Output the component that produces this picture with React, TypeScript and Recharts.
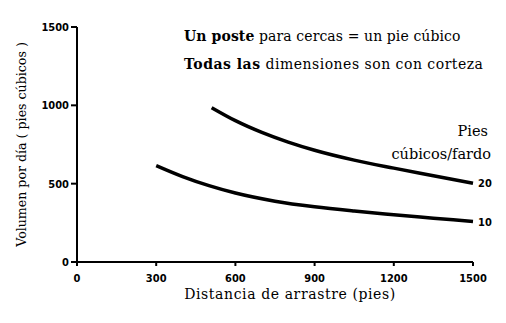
import { LineChart, Line, XAxis, YAxis } from "recharts";

// distancia de arrastre (pies) y volumen por día (pies cúbicos)
const dist10 = [300, 400, 500, 600, 750, 900, 1050, 1200, 1350, 1500];
const vol10 = [615, 545, 487, 440, 388, 352, 325, 302, 280, 258];

const dist20 = [510, 600, 700, 800, 900, 1050, 1200, 1350, 1500];
const vol20 = [985, 902, 827, 765, 713, 650, 599, 551, 503];

const xTicks = [0, 300, 600, 900, 1200, 1500];
const yTicks = [0, 500, 1000, 1500];

const notes = [
  ["Un poste", " para cercas =  un pie cúbico"],
  ["Todas las", " dimensiones son con corteza"],
];
const seriesTitle = ["Pies", "cúbicos/fardo"];
const xTitle = "Distancia de arrastre (pies)";
const yTitle = "Volumen por día ( pies cúbicos )";

const serie10 = dist10.map((d, i) => ({ d, v: vol10[i] }));
const serie20 = dist20.map((d, i) => ({ d, v: vol20[i] }));

const serif = "DejaVu Serif, serif";
const tickFont = "DejaVu Sans Condensed, DejaVu Sans, sans-serif";

const endLabel = (text: string, count: number) => (props: any) => {
  if (props.index !== count - 1) return null;
  return (
    <text
      x={props.x + 5}
      y={props.y + 4}
      style={{ fontFamily: tickFont, fontWeight: "bold", fontSize: 11 }}
      fill="#000"
    >
      {text}
    </text>
  );
};

export default function App() {
  return (
    <div style={{ position: "absolute", left: 0, top: 0, background: "#fff" }}>
      <LineChart
        width={506}
        height={323}
        margin={{ top: 27, right: 33, left: 27, bottom: 31 }}
      >
        <XAxis
          dataKey="d"
          type="number"
          domain={[0, 1500]}
          ticks={xTicks}
          allowDuplicatedCategory={false}
          stroke="#000"
          strokeWidth={2}
          tickSize={4}
          tickMargin={8}
          tick={{ fill: "#000", fontSize: 11, fontWeight: "bold", fontFamily: tickFont }}
          height={30}
        />
        <YAxis
          type="number"
          domain={[0, 1500]}
          ticks={yTicks}
          stroke="#000"
          strokeWidth={2}
          tickSize={6}
          width={50}
          tick={{ fill: "#000", fontSize: 11, fontWeight: "bold", fontFamily: tickFont }}
          label={{
            value: yTitle,
            angle: -90,
            position: "insideLeft",
            offset: -5,
            fill: "#000",
            fontSize: 12.6,
            fontFamily: serif,
            style: { textAnchor: "middle" },
          }}
        />
        <Line
          data={serie10}
          dataKey="v"
          type="monotone"
          stroke="#000"
          strokeWidth={3.5}
          dot={false}
          isAnimationActive={false}
          label={endLabel("10", serie10.length)}
        />
        <Line
          data={serie20}
          dataKey="v"
          type="monotone"
          stroke="#000"
          strokeWidth={3.5}
          dot={false}
          isAnimationActive={false}
          label={endLabel("20", serie20.length)}
        />
        <text
          x={290}
          y={299}
          textAnchor="middle"
          fill="#000"
          style={{ fontFamily: serif, fontSize: 14, letterSpacing: 0.6 }}
        >
          {xTitle}
        </text>
        {notes.map((n, i) => (
          <text
            key={i}
            x={184}
            y={41 + i * 28}
            fill="#000"
            style={{ fontFamily: serif, fontSize: 14, letterSpacing: i === 1 ? 0.5 : 0.1 }}
          >
            <tspan style={{ fontWeight: "bold" }}>{n[0]}</tspan>
            <tspan>{n[1]}</tspan>
          </text>
        ))}
        <text
          x={488}
          y={136}
          textAnchor="end"
          fill="#000"
          style={{ fontFamily: serif, fontSize: 14.5 }}
        >
          {seriesTitle[0]}
        </text>
        <text
          x={491}
          y={159}
          textAnchor="end"
          fill="#000"
          style={{ fontFamily: serif, fontSize: 14.5 }}
        >
          {seriesTitle[1]}
        </text>
      </LineChart>
    </div>
  );
}
